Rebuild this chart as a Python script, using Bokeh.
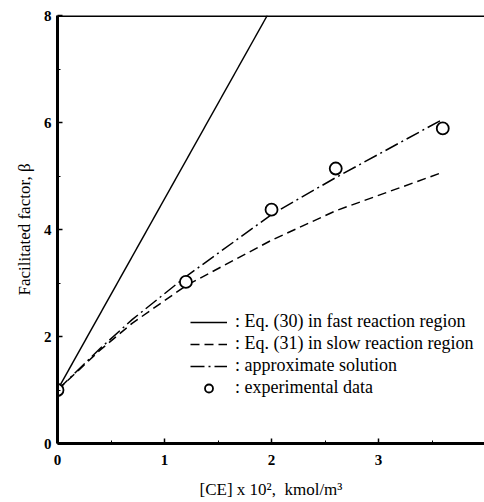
from bokeh.plotting import figure
from bokeh.models import Range1d, Legend, LegendItem, FixedTicker, Span
from bokeh.embed import file_html
from bokeh.resources import INLINE

# Eq. (30) fast reaction region (straight line)
fast_x = [0.0, 1.96]
fast_y = [1.0, 8.0]
# Eq. (31) slow reaction region
slow_x = [0.0, 0.4, 0.7, 1.2, 2.0, 2.6, 3.6]
slow_y = [1.0, 1.75, 2.25, 2.95, 3.80, 4.35, 5.07]
# approximate solution
appr_x = [0.0, 0.4, 0.7, 1.2, 2.0, 2.6, 3.6]
appr_y = [1.0, 1.78, 2.32, 3.12, 4.28, 4.97, 6.06]
# experimental data
exp_x = [0.0, 1.2, 2.0, 2.6, 3.6]
exp_y = [1.0, 3.02, 4.37, 5.14, 5.89]

x_ticks = [0, 1, 2, 3]
y_ticks = [0, 2, 4, 6, 8]

FONT = "Liberation Serif"

p = figure(width=484, height=502, output_backend="svg", toolbar_location=None,
           x_range=Range1d(0, 3.99), y_range=Range1d(0, 8),
           min_border_left=57, min_border_right=0, min_border_top=15, min_border_bottom=59,
           x_axis_label="[CE] x 10\u00b2,\u00a0 kmol/m\u00b3",
           y_axis_label="Facilitated factor, \u03b2")
p.grid.visible = False
p.outline_line_color = None
p.background_fill_color = "white"
p.border_fill_color = "white"

for ax in (p.xaxis[0], p.yaxis[0]):
    ax.axis_line_width = 3
    ax.axis_line_color = "black"
    ax.major_tick_in = 5
    ax.major_tick_out = 0
    ax.minor_tick_in = 3
    ax.minor_tick_out = 0
    ax.major_tick_line_width = 1.5
    ax.minor_tick_line_width = 1
    ax.major_label_text_font = FONT
    ax.major_label_text_font_style = "bold"
    ax.major_label_text_font_size = "15px"
    ax.major_label_text_color = "black"
    ax.axis_label_text_font = FONT
    ax.axis_label_text_font_style = "normal"
    ax.axis_label_text_font_size = "17px"
    ax.axis_label_text_color = "black"

p.xaxis[0].ticker = FixedTicker(ticks=x_ticks, minor_ticks=[0.5, 1.5, 2.5, 3.5])
p.yaxis[0].ticker = FixedTicker(ticks=y_ticks, minor_ticks=[1, 3, 5, 7])
p.xaxis[0].major_label_standoff = 11
p.xaxis[0].axis_label_standoff = 12
p.yaxis[0].major_label_standoff = 6
p.yaxis[0].axis_label_standoff = 7

# top border of the frame (no right border in the reference)
p.add_layout(Span(location=8, dimension="width", line_color="black", line_width=3))

r_fast = p.line(fast_x, fast_y, line_color="black", line_width=1.5)
r_slow = p.line(slow_x, slow_y, line_color="black", line_width=1.5, line_dash="9 5")
r_appr = p.line(appr_x, appr_y, line_color="black", line_width=1.5, line_dash="14 4 2 4")
r_exp = p.scatter(exp_x, exp_y, marker="circle", size=12, fill_color="white",
                  line_color="black", line_width=1.8)

legend = Legend(items=[
    LegendItem(label=": Eq. (30) in fast reaction region", renderers=[r_fast]),
    LegendItem(label=": Eq. (31) in slow reaction region", renderers=[r_slow]),
    LegendItem(label=": approximate solution", renderers=[r_appr]),
    LegendItem(label=": experimental data", renderers=[r_exp]),
], location=(133, 45), padding=0, margin=0, spacing=1, glyph_width=37, glyph_height=20,
    label_height=20, label_standoff=8, border_line_color=None, background_fill_alpha=0,
    label_text_font=FONT, label_text_font_size="18px", label_text_color="black")
p.add_layout(legend, "center")

open("out.html", "w").write(file_html(p, INLINE))
